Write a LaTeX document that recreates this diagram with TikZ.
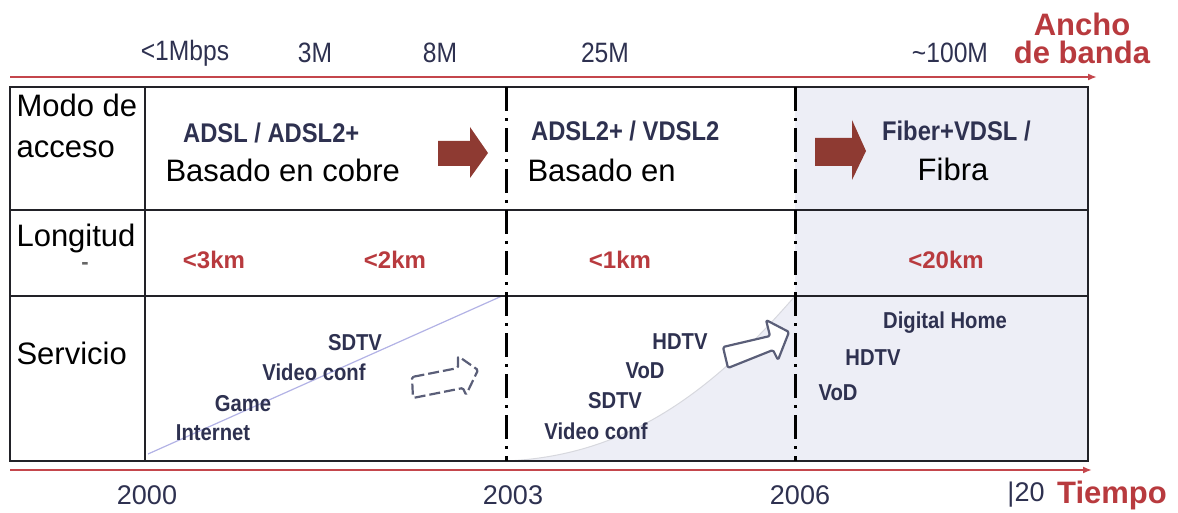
\documentclass[tikz,border=0pt]{standalone}
\usepackage{fontspec}
\setmainfont{Liberation Sans}
\usetikzlibrary{arrows.meta}
\definecolor{navy}{HTML}{2E3150}
\definecolor{redtxt}{HTML}{B83A3E}
\definecolor{axisred}{HTML}{C4464C}
\definecolor{arrred}{HTML}{8E3A32}
\definecolor{lav}{HTML}{EDEEF6}
\definecolor{gridc}{HTML}{222228}
\definecolor{hollow}{HTML}{5A5E78}
\begin{document}
\begin{tikzpicture}[x=1pt,y=-1pt,
  bw/.style={font=\fontsize{28}{30}\selectfont, text=navy, xscale=0.88},
  head/.style={font=\fontsize{31}{41}\selectfont, text=black},
  lbl/.style={font=\bfseries\fontsize{27}{29}\selectfont, text=navy, xscale=0.88},
  svc/.style={font=\bfseries\fontsize{23}{25}\selectfont, text=navy, xscale=0.88},
  km/.style={font=\bfseries\fontsize{24}{26}\selectfont, text=redtxt},
  redb/.style={font=\bfseries\fontsize{31}{31}\selectfont, text=redtxt},
  year/.style={font=\fontsize{27}{29}\selectfont, text=navy},
  grid/.style={draw=gridc, line width=2.2pt},
  dd/.style={draw=black, line width=3pt, dash pattern=on 24pt off 7pt on 3pt off 7pt},
  axis/.style={draw=axisred, line width=2.2pt, -{Latex[length=9pt,width=7pt]}},
  redarrow/.style={fill=arrred, draw=none},
  hol/.style={draw=hollow, line width=2.2pt, fill=white, line join=round, rounded corners=1.5pt}
]
\useasboundingbox (0,0) rectangle (1178,513);
% backgrounds
\fill[lav] (795,87) rectangle (1088,461);
\fill[lav] (506,461) .. controls (620,456) and (705,400) .. (795,296) -- (795,461) -- cycle;
\draw[draw=lav!80!gray, line width=1pt] (506,461) .. controls (620,456) and (705,400) .. (795,296);
\draw[draw=gray!50!blue!40, line width=1.2pt] (148,454) -- (502,296);

% grid
\coordinate (tl) at (10,87);
\coordinate (br) at (1088,461);
\draw[grid] (tl) rectangle (br);
\draw[grid] (145,87) -- (145,461);
\draw[grid] (10,210) -- (1088,210);
\draw[grid] (10,296) -- (1088,296);
\draw[dd] (506,87) -- (506,461);
\draw[dd] (795,87) -- (795,461);

% axes
\coordinate (a0) at (10,77); \coordinate (a1) at (1097,77);
\draw[axis] (a0) -- (a1);
\coordinate (b0) at (10,470); \coordinate (b1) at (1092,470);
\draw[axis] (b0) -- (b1);

% bandwidth labels
\node[bw] (m1) at (185,53) {<1Mbps};
\node[bw] (m3) at (315,53) {3M};
\node[bw] (m8) at (440,53) {8M};
\node[bw] (m25) at (605,53) {25M};
\node[bw] (m100) at (950,53) {\textasciitilde100M};
\node[redb, align=center] (ab) at (1082,38) {Ancho\\[-3pt]de banda};

% row headers
\node[head, anchor=west, align=left] (modo) at (13,126) {Modo de\\acceso};
\node[head, anchor=west] (long) at (13,238) {Longitud};
\node[text=gray!80!black, font=\bfseries\fontsize{22}{24}\selectfont] (dash) at (85,266) {-};
\node[head, anchor=west] (serv) at (13,353) {Servicio};

% access modes
\node[lbl, anchor=west] (adsl) at (180,133) {ADSL / ADSL2+};
\node[head, anchor=west] (cobre) at (162,170) {Basado en cobre};
\node[lbl, anchor=west] (vdsl) at (528,131) {ADSL2+ / VDSL2};
\node[head, anchor=west] (basen) at (524,170) {Basado en};
\node[lbl, anchor=west] (fiber) at (879,131) {Fiber+VDSL /};
\node[head] (fibra) at (953,169) {Fibra};

% red block arrows
\fill[redarrow] (438,141) -- (470,141) -- (470,127) -- (488,153) -- (470,178) -- (470,166) -- (438,166) -- cycle;
\fill[redarrow] (815,138) -- (852,138) -- (852,120) -- (866,151) -- (852,180) -- (852,166) -- (815,166) -- cycle;

% lengths
\node[km] (k3) at (214,260) {<3km};
\node[km] (k2) at (395,260) {<2km};
\node[km] (k1) at (620,260) {<1km};
\node[km] (k20) at (946,260) {<20km};

% services
\node[svc] (s1) at (355,343) {SDTV};
\node[svc] (s2) at (314,372) {Video conf};
\node[svc] (s3) at (243,404) {Game};
\node[svc] (s4) at (213,433) {Internet};
\node[svc] (t1) at (680,342) {HDTV};
\node[svc] (t2) at (645,371) {VoD};
\node[svc] (t3) at (615,401) {SDTV};
\node[svc] (t4) at (596,431) {Video conf};
\node[svc] (u1) at (945,323) {Digital Home};
\node[svc] (u2) at (873,358) {HDTV};
\node[svc] (u3) at (838,393) {VoD};

% hollow arrows
\draw[hol, dash pattern=on 11pt off 4pt] (412,377) -- (458,368) -- (458,356) -- (478,370) -- (466,395) -- (463,388) -- (413,398) -- cycle;
\draw[hol] (723,347) -- (770,336) -- (766,320) -- (789,332) -- (778,360) -- (773,350) -- (728,368) -- cycle;

% years
\node[year] (y0) at (147,495) {2000};
\node[year] (y3) at (513,495) {2003};
\node[year] (y6) at (800,495) {2006};
\node[year] (y9) at (1026,495) {|20};
\node[redb] (tiempo) at (1112,495) {Tiempo};
\end{tikzpicture}
\end{document}
